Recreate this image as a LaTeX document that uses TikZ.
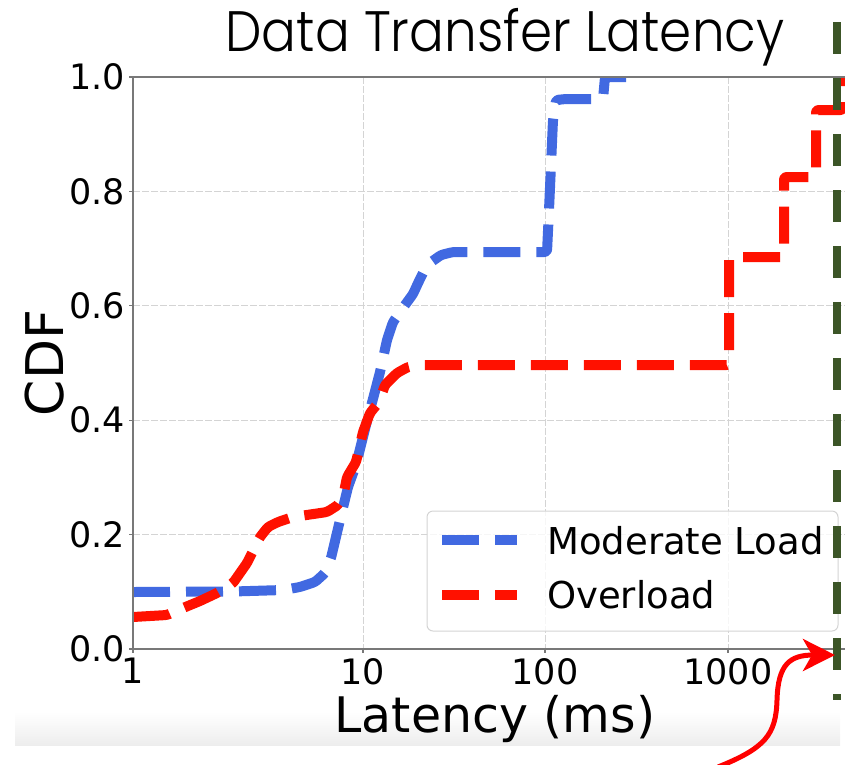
\documentclass[tikz,border=0pt]{standalone}
\usepackage{fontspec}
\setmainfont{DejaVu Sans}
\newfontfamily\titlefont{Poppins Light}
\usetikzlibrary{arrows.meta}

\definecolor{modblue}{RGB}{65,105,225}
\definecolor{overred}{RGB}{255,17,0}
\definecolor{limitgreen}{RGB}{60,85,39}
\definecolor{spinegray}{RGB}{120,120,120}
\definecolor{gridgray}{RGB}{212,212,212}

\tikzset{
  spine/.style={draw=spinegray, line width=1.3pt},
  gridline/.style={draw=gridgray, line width=1pt, dash pattern=on 7pt off 2pt},
  cdfcurve/.style={line width=10pt, dash pattern=on 37pt off 16pt, line join=round, rounded corners=2.5pt},
  ticklabel/.style={inner sep=0pt, font=\fontsize{35}{40}\selectfont},
  legendtext/.style={inner sep=0pt, anchor=base west, font=\fontsize{37}{42}\selectfont},
}

\begin{document}
\begin{tikzpicture}[x=1pt,y=-1pt]
\useasboundingbox (0,0) rectangle (845,764);

% soft shadow strip under the figure
\shade[top color=white, bottom color=black!7] (15,712) rectangle (840,745);

% grid
\foreach \yy in {534.6,420.2,305.8,191.4}
  \draw[gridline] (133,\yy) -- (845,\yy);
\foreach \xx in {363,545,728}
  \draw[gridline] (\xx,77) -- (\xx,649);

% CDF curves, clipped to the axes box
\begin{scope}
\clip (133,77) rectangle (845,649);
\draw[cdfcurve, modblue]
  (133,592) -- (233,591.5) -- (283,590) -- (300,587) -- (315,582) -- (325,573)
  -- (331,558) -- (340,520) -- (348,487) -- (356,465) -- (366,425) -- (374,395)
  -- (380,372) -- (387,340) -- (393,322) -- (405,305) -- (413,294) -- (419,281)
  -- (427,265) -- (441,255) -- (453,252) -- (547,252) -- (549,210) -- (553,120)
  -- (556,100) -- (566,99) -- (603,99) -- (605,77) -- (637,77);
\draw[cdfcurve, overred]
  (133,617) -- (167,615) -- (183,608) -- (200,601) -- (217,593) -- (233,583)
  -- (247,563) -- (260,537) -- (268,527) -- (278,522) -- (293,517) -- (327,512)
  -- (338,505) -- (344,492) -- (347,477) -- (356,462) -- (363,432) -- (370,413)
  -- (379,402) -- (385,385) -- (397,373) -- (408,367) -- (422,365) -- (729,365)
  -- (729,257) -- (784,257) -- (784,177) -- (816,177) -- (816,110) -- (843,110)
  -- (843,60);
\end{scope}

% spines and ticks
\draw[spine] (133,77) -- (133,649);
\draw[spine] (133,649) -- (845,649);
\draw[spine] (133,77) -- (845,77);
\foreach \yy in {649,534.6,420.2,305.8,191.4,77}
  \draw[spine] (129,\yy) -- (133,\yy);
\foreach \xx in {133,363,545,728}
  \draw[spine] (\xx,649) -- (\xx,653);

% tick labels
\node[ticklabel, anchor=east] (y0) at (125,649) {0.0};
\node[ticklabel, anchor=east] (y2) at (125,534.6) {0.2};
\node[ticklabel, anchor=east] (y4) at (125,420.2) {0.4};
\node[ticklabel, anchor=east] (y6) at (125,305.8) {0.6};
\node[ticklabel, anchor=east] (y8) at (125,191.4) {0.8};
\node[ticklabel, anchor=east] (y10) at (125,77) {1.0};
\node[ticklabel, anchor=north] (x1) at (133,658) {1};
\node[ticklabel, anchor=north] (x10) at (363,658) {10};
\node[ticklabel, anchor=north] (x100) at (545,658) {100};
\node[ticklabel, anchor=north] (x1000) at (728,658) {1000};

% axis labels and title
\node[inner sep=0pt, rotate=90, font=\fontsize{52}{60}\selectfont] (ylab) at (45,363) {CDF};
\node[inner sep=0pt, anchor=base, font=\fontsize{49}{56}\selectfont] (xlab) at (495,732) {Latency (ms)};
\node[inner sep=0pt, anchor=base, font=\titlefont\fontsize{57}{64}\selectfont] (title) at (505,51)
  {\scalebox{0.905}[1]{Data Transfer Latency}};

% legend
\draw[draw=gridgray, line width=1pt, fill=white, fill opacity=0.8, rounded corners=6pt]
  (427,511) rectangle (838,631);
\draw[modblue, line width=10pt, dash pattern=on 37pt off 16pt] (442,540) -- (517,540);
\draw[overred, line width=10pt, dash pattern=on 37pt off 16pt] (442,595) -- (517,595);
\node[legendtext] (lmod) at (547,554) {Moderate Load};
\node[legendtext] (lover) at (547,608) {Overload};

% time limit marker
\coordinate (limtop) at (837,22);
\coordinate (limbot) at (837,700);
\draw[limitgreen, line width=8pt, dash pattern=on 32pt off 24pt] (limtop) -- (limbot);

% pointer arrow
\coordinate (arrtail) at (718,767);
\coordinate (arrtip) at (835,655);
\draw[red, line width=5pt, -{Stealth[length=32pt,width=32pt,inset=9pt]}]
  (arrtail) .. controls (765,748) and (776,735) .. (777,700)
  .. controls (778,664) and (790,655) .. (arrtip);
\end{tikzpicture}
\end{document}
